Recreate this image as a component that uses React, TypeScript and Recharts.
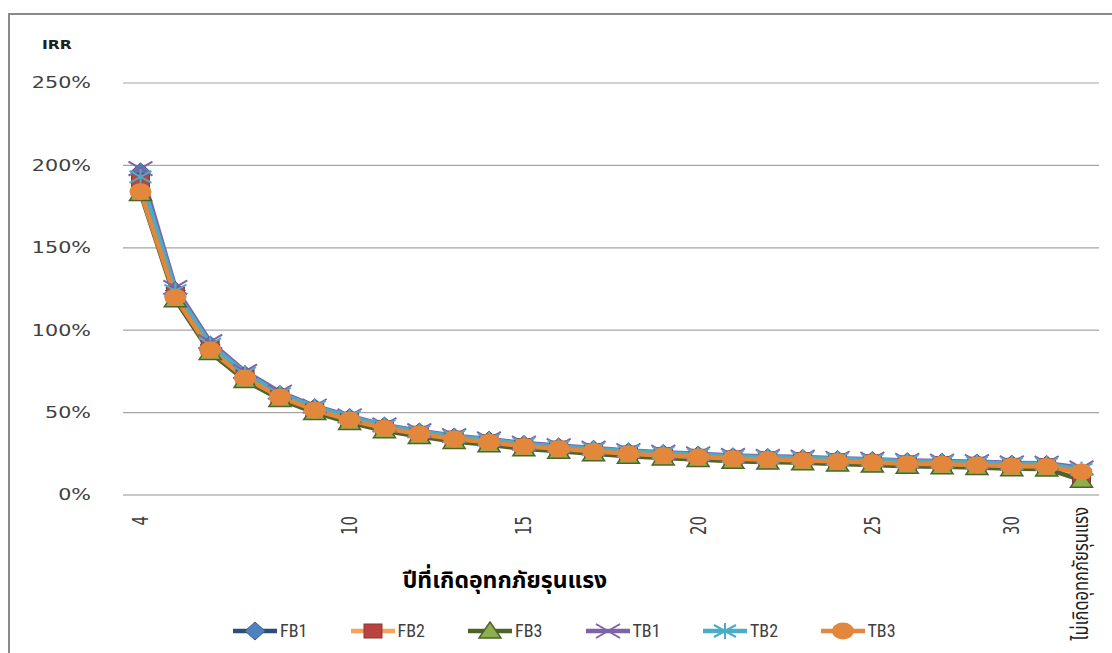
import React from "react";
import { LineChart, Line, XAxis, YAxis, CartesianGrid } from "recharts";

const NO_FLOOD = "ไม่เกิดอุทกภัยรุนแรง";

// category axis: year of the severe flood, plus the no-flood case
const YEARS = [
  "4", "5", "6", "7", "8", "9", "10", "11", "12", "13", "14", "15", "16", "17",
  "18", "19", "20", "21", "22", "23", "24", "25", "26", "27", "28", "30", "31", NO_FLOOD,
];
const LABELED_YEARS = ["4", "10", "15", "20", "25", "30", NO_FLOOD];

// IRR in percent
const FB1 = [196, 124, 91, 73, 61, 53, 47, 41.8, 38.2, 35.2, 33.2, 30.7, 29.2, 27.7, 26.2, 25.2, 24.2, 23.2, 22.7, 22.2, 21.5, 20.9, 20.2, 19.8, 19.4, 18.7, 18.5, 12];
const FB2 = [191, 122, 89.5, 72, 60, 52, 46, 41, 37.5, 34.5, 32.5, 30, 28.5, 27, 25.5, 24.5, 23.5, 22.5, 22, 21.5, 20.8, 20.2, 19.5, 19.1, 18.7, 18, 17.8, 11];
const FB3 = [183, 118.5, 86.5, 69.5, 58, 50, 44, 39, 35.5, 32.5, 30.5, 28, 26.5, 25, 23.5, 22.5, 21.5, 20.5, 20, 19.5, 18.8, 18.2, 17.5, 17.1, 16.7, 16, 15.8, 9];
const TB1 = [198, 126, 93, 75, 62.5, 54, 48, 42.5, 39, 36, 34, 31.5, 30, 28.5, 27, 26, 25, 24, 23.5, 23, 22.3, 21.7, 21, 20.6, 20.2, 19.5, 19.3, 16.5];
const TB2 = [193, 124, 91.5, 74, 61.5, 53.5, 47.5, 42, 38.5, 35.5, 33.5, 31, 29.5, 28, 26.5, 25.5, 24.5, 23.5, 23, 22.5, 21.8, 21.2, 20.5, 20.1, 19.7, 19, 18.8, 15.5];
const TB3 = [184, 120, 88, 71, 59.5, 51.5, 45.5, 40.5, 37, 34, 32, 29.5, 28, 26.5, 25, 24, 23, 22, 21.5, 21, 20.3, 19.7, 19, 18.6, 18.2, 17.5, 17.3, 14];

const Y_TICKS = [0, 50, 100, 150, 200, 250];

const data = YEARS.map((year, i) => ({
  year,
  FB1: FB1[i],
  FB2: FB2[i],
  FB3: FB3[i],
  TB1: TB1[i],
  TB2: TB2[i],
  TB3: TB3[i],
}));

type Kind = "diamond" | "square" | "triangle" | "x" | "star" | "circle";

const SERIES: { key: string; line: string; kind: Kind; fill: string; edge: string }[] = [
  { key: "FB1", line: "#2C4D75", kind: "diamond", fill: "#4F81BD", edge: "#385D8A" },
  { key: "FB2", line: "#F9A25C", kind: "square", fill: "#B8433F", edge: "#8C3836" },
  { key: "FB3", line: "#4F6228", kind: "triangle", fill: "#8DB04E", edge: "#4F6228" },
  { key: "TB1", line: "#7F62A8", kind: "x", fill: "none", edge: "#7F62A8" },
  { key: "TB2", line: "#4BACC6", kind: "star", fill: "none", edge: "#4BACC6" },
  { key: "TB3", line: "#E2873C", kind: "circle", fill: "#E2873C", edge: "#E2873C" },
];

const THAI = "'Noto Sans Thai', 'Noto Looped Thai', Loma, Garuda, 'Tlwg Typo', 'DejaVu Sans', sans-serif";
const TICK_FONT = "'DejaVu Sans', Verdana, sans-serif";

function Marker({ kind, cx, cy, fill, edge }: { kind: Kind; cx: number; cy: number; fill: string; edge: string }) {
  switch (kind) {
    case "diamond":
      return <polygon points={`${cx},${cy - 9} ${cx + 10},${cy} ${cx},${cy + 9} ${cx - 10},${cy}`} fill={fill} stroke={edge} strokeWidth={1} />;
    case "square":
      return <rect x={cx - 9} y={cy - 7} width={18} height={14} fill={fill} stroke={edge} strokeWidth={1} />;
    case "triangle":
      return <polygon points={`${cx},${cy - 9} ${cx + 11},${cy + 7} ${cx - 11},${cy + 7}`} fill={fill} stroke={edge} strokeWidth={1.5} />;
    case "x":
      return (
        <g stroke={edge} strokeWidth={2}>
          <line x1={cx - 12} y1={cy - 7} x2={cx + 12} y2={cy + 7} />
          <line x1={cx - 12} y1={cy + 7} x2={cx + 12} y2={cy - 7} />
        </g>
      );
    case "star":
      return (
        <g stroke={edge} strokeWidth={2}>
          <line x1={cx - 11} y1={cy - 6} x2={cx + 11} y2={cy + 6} />
          <line x1={cx - 11} y1={cy + 6} x2={cx + 11} y2={cy - 6} />
          <line x1={cx} y1={cy - 8} x2={cx} y2={cy + 8} />
        </g>
      );
    default:
      return <ellipse cx={cx} cy={cy} rx={11} ry={8.5} fill={fill} />;
  }
}

function YTick({ x, y, payload }: any) {
  return (
    <text
      transform={`translate(${x},${y}) scale(1.38,1)`}
      textAnchor="end"
      dominantBaseline="central"
      fontFamily={TICK_FONT}
      fontSize={15}
      fill="#404040"
    >
      {payload.value}%
    </text>
  );
}

function XTick({ x, y, payload }: any) {
  const v = payload.value as string;
  if (!LABELED_YEARS.includes(v)) return null;
  const thai = v === NO_FLOOD;
  // the long no-flood label starts a little closer to the axis so it fits the frame
  const top = thai ? y - 9 : y;
  return (
    <text
      transform={`translate(${x},${top}) scale(${thai ? 1.3 : 1.38},1) rotate(-90)`}
      textAnchor="end"
      dominantBaseline="central"
      fontFamily={thai ? THAI : TICK_FONT}
      fontSize={thai ? 16.5 : 15}
      fill={thai ? "#202020" : "#404040"}
    >
      {v}
    </text>
  );
}

function Legend() {
  return (
    <div style={{ position: "absolute", left: 233, top: 621, display: "flex" }}>
      {SERIES.map((s) => (
        <div key={s.key} style={{ width: 117.5, display: "flex", alignItems: "center" }}>
          <svg width={44} height={20}>
            <line x1={0} y1={10} x2={44} y2={10} stroke={s.line} strokeWidth={4.5} />
            <Marker kind={s.kind} cx={22} cy={10} fill={s.fill} edge={s.edge} />
          </svg>
          <span
            style={{
              marginLeft: 3,
              fontFamily: "'Liberation Sans Narrow', 'Roboto Condensed', 'Arial Narrow', sans-serif",
              fontStretch: "condensed",
              fontSize: 18,
              color: "#404040",
              lineHeight: "20px",
            }}
          >
            {s.key}
          </span>
        </div>
      ))}
    </div>
  );
}

export default function App() {
  return (
    <div style={{ position: "fixed", left: 0, top: 0, width: 1112, height: 653, overflow: "hidden", background: "#fff" }}>
      <div
        style={{
          position: "absolute",
          left: 8,
          top: 13,
          width: 1104,
          height: 640,
          borderTop: "2px solid #8A8A8A",
          borderLeft: "2px solid #8A8A8A",
          boxSizing: "border-box",
        }}
      />
      <LineChart width={1112} height={653} data={data} margin={{ top: 83, right: 13, bottom: 0, left: 0 }} style={{ position: "absolute", left: 0, top: 0 }}>
        <CartesianGrid horizontal vertical={false} stroke="#A6A6A6" strokeWidth={1.2} />
        <XAxis
          dataKey="year"
          type="category"
          scale="point"
          padding={{ left: 17.5, right: 17.5 }}
          interval={0}
          height={158}
          tickSize={0}
          tickMargin={21}
          tickLine={false}
          axisLine={{ stroke: "#C8C8C8", strokeWidth: 2 }}
          tick={<XTick />}
        />
        <YAxis
          type="number"
          domain={[0, 250]}
          ticks={Y_TICKS}
          width={123}
          tickSize={0}
          tickMargin={32}
          axisLine={false}
          tickLine={false}
          tick={<YTick />}
        />
        {SERIES.map((s) => (
          <Line
            key={s.key}
            type="linear"
            dataKey={s.key}
            stroke={s.line}
            strokeWidth={4.5}
            isAnimationActive={false}
            activeDot={false}
            dot={(p: any) => <Marker key={`${s.key}-${p.index}`} kind={s.kind} cx={p.cx} cy={p.cy} fill={s.fill} edge={s.edge} />}
          />
        ))}
      </LineChart>
      <div
        style={{
          position: "absolute",
          left: 42,
          top: 37,
          fontFamily: "'DejaVu Sans', Tahoma, sans-serif",
          fontWeight: "bold",
          fontSize: 12.5,
          color: "#202020",
          transform: "scaleX(1.25)",
          transformOrigin: "left top",
        }}
      >
        IRR
      </div>
      <div
        style={{
          position: "absolute",
          left: 280,
          width: 450,
          top: 564,
          textAlign: "center",
          fontFamily: THAI,
          fontWeight: "bold",
          fontSize: 23,
          color: "#000",
        }}
      >
        ปีที่เกิดอุทกภัยรุนแรง
      </div>
      <Legend />
    </div>
  );
}
